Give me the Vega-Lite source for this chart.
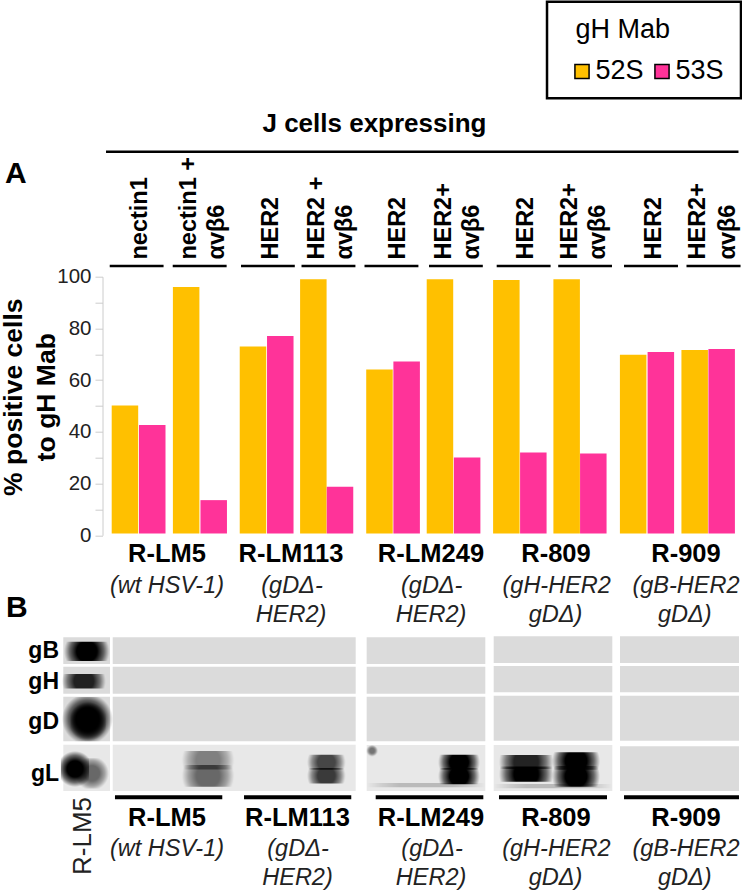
{
"$schema":"https://vega.github.io/schema/vega-lite/v6.json",
"autosize":{"type":"none"},
"padding":{"left":102.5,"top":276.7,"right":0,"bottom":355.7},
"width":639.5,"height":258.6,
"background":"white",
"config":{"font":"Liberation Sans","view":{"stroke":null}},
"datasets":{
"bars":[
{"virus":"R-LM5","cells":"nectin1","mab":"52S","v":50.2,"lane":0.351},
{"virus":"R-LM5","cells":"nectin1","mab":"53S","v":42.7,"lane":0.778},
{"virus":"R-LM5","cells":"nectin1 + αvβ6","mab":"52S","v":96,"lane":1.308},
{"virus":"R-LM5","cells":"nectin1 + αvβ6","mab":"53S","v":13.6,"lane":1.739},
{"virus":"R-LM113","cells":"HER2","mab":"52S","v":73,"lane":2.353},
{"virus":"R-LM113","cells":"HER2","mab":"53S","v":77.1,"lane":2.78},
{"virus":"R-LM113","cells":"HER2 + αvβ6","mab":"52S","v":99,"lane":3.297},
{"virus":"R-LM113","cells":"HER2 + αvβ6","mab":"53S","v":18.8,"lane":3.714},
{"virus":"R-LM249","cells":"HER2","mab":"52S","v":64.1,"lane":4.331},
{"virus":"R-LM249","cells":"HER2","mab":"53S","v":67.2,"lane":4.756},
{"virus":"R-LM249","cells":"HER2+ αvβ6","mab":"52S","v":99,"lane":5.277},
{"virus":"R-LM249","cells":"HER2+ αvβ6","mab":"53S","v":30.1,"lane":5.702},
{"virus":"R-809","cells":"HER2","mab":"52S","v":98.7,"lane":6.315},
{"virus":"R-809","cells":"HER2","mab":"53S","v":32,"lane":6.737},
{"virus":"R-809","cells":"HER2+ αvβ6","mab":"52S","v":99,"lane":7.258},
{"virus":"R-809","cells":"HER2+ αvβ6","mab":"53S","v":31.6,"lane":7.675},
{"virus":"R-909","cells":"HER2","mab":"52S","v":69.8,"lane":8.298},
{"virus":"R-909","cells":"HER2","mab":"53S","v":70.9,"lane":8.731},
{"virus":"R-909","cells":"HER2+ αvβ6","mab":"52S","v":71.7,"lane":9.26},
{"virus":"R-909","cells":"HER2+ αvβ6","mab":"53S","v":72,"lane":9.682}
],
"blots":[
{"panel":"ref","protein":"gB","lane":-0.613,"lane2":0.117,"v":-39.44,"v2":-49.77},
{"panel":"ref","protein":"gH","lane":-0.613,"lane2":0.117,"v":-50.81,"v2":-61.25},
{"panel":"ref","protein":"gD","lane":-0.613,"lane2":0.117,"v":-62.41,"v2":-79.66},
{"panel":"ref","protein":"gL","lane":-0.613,"lane2":0.117,"v":-80.97,"v2":-98.88},
{"panel":"R-LM5/113","protein":"gB","lane":0.16,"lane2":3.959,"v":-39.44,"v2":-49.77},
{"panel":"R-LM5/113","protein":"gH","lane":0.16,"lane2":3.959,"v":-50.81,"v2":-61.25},
{"panel":"R-LM5/113","protein":"gD","lane":0.16,"lane2":3.959,"v":-62.41,"v2":-79.66},
{"panel":"R-LM5/113","protein":"gL","lane":0.16,"lane2":3.959,"v":-80.97,"v2":-98.88},
{"panel":"R-LM249","protein":"gB","lane":4.131,"lane2":5.986,"v":-39.44,"v2":-49.77},
{"panel":"R-LM249","protein":"gH","lane":4.131,"lane2":5.986,"v":-50.81,"v2":-61.25},
{"panel":"R-LM249","protein":"gD","lane":4.131,"lane2":5.986,"v":-62.41,"v2":-79.66},
{"panel":"R-LM249","protein":"gL","lane":4.131,"lane2":5.986,"v":-81.09,"v2":-98.88},
{"panel":"R-809","protein":"gB","lane":6.117,"lane2":7.972,"v":-39.06,"v2":-49.38},
{"panel":"R-809","protein":"gH","lane":6.117,"lane2":7.972,"v":-50.54,"v2":-60.71},
{"panel":"R-809","protein":"gD","lane":6.117,"lane2":7.972,"v":-62.03,"v2":-79.43},
{"panel":"R-809","protein":"gL","lane":6.117,"lane2":7.972,"v":-81.09,"v2":-98.88},
{"panel":"R-909","protein":"gB","lane":8.092,"lane2":9.953,"v":-39.06,"v2":-49.38},
{"panel":"R-909","protein":"gH","lane":8.092,"lane2":9.953,"v":-50.54,"v2":-60.71},
{"panel":"R-909","protein":"gD","lane":8.092,"lane2":9.953,"v":-62.03,"v2":-79.43},
{"panel":"R-909","protein":"gL","lane":8.092,"lane2":9.953,"v":-81.6,"v2":-98.88}
],
"bands":[
{"panel":"ref","protein":"gB","lane":-0.6,"lane2":0.11,"v":-41.2,"v2":-48.6,"density":1},
{"panel":"ref","protein":"gH","lane":-0.633,"lane2":0.05,"v":-53.6,"v2":-59.2,"density":0.85},
{"panel":"ref","protein":"gD","lane":-0.633,"lane2":0.16,"v":-62.5,"v2":-79.6,"density":1},
{"panel":"ref","protein":"gD","lane":-0.5,"lane2":0.05,"v":-64.5,"v2":-79.6,"density":1},
{"panel":"ref","protein":"gL","lane":-0.43,"lane2":0.1,"v":-86.2,"v2":-97.9,"density":0.55},
{"panel":"ref","protein":"gL","lane":-0.65,"lane2":-0.21,"v":-83.4,"v2":-97.3,"density":1},
{"panel":"R-LM5","protein":"gL","lane":1.24,"lane2":2.06,"v":-83.4,"v2":-90.6,"density":0.45},
{"panel":"R-LM5","protein":"gL","lane":1.24,"lane2":2.06,"v":-88.8,"v2":-97.2,"density":0.55},
{"panel":"R-LM113","protein":"gL","lane":3.2,"lane2":3.8,"v":-84.9,"v2":-90.7,"density":0.7},
{"panel":"R-LM113","protein":"gL","lane":3.2,"lane2":3.8,"v":-90,"v2":-96,"density":0.75},
{"panel":"R-LM249","protein":"gL","lane":5.25,"lane2":5.9,"v":-84.9,"v2":-90.7,"density":1},
{"panel":"R-LM249","protein":"gL","lane":5.25,"lane2":5.9,"v":-90,"v2":-96.3,"density":1},
{"panel":"R-LM249","protein":"gL","lane":4.131,"lane2":4.3,"v":-81.1,"v2":-85.5,"density":0.5},
{"panel":"R-LM249","protein":"gL","lane":4.131,"lane2":5.986,"v":-95.8,"v2":-97.4,"density":0.2},
{"panel":"R-809","protein":"gL","lane":6.2,"lane2":7.05,"v":-85,"v2":-90.4,"density":0.85},
{"panel":"R-809","protein":"gL","lane":6.2,"lane2":7.05,"v":-89.4,"v2":-95.3,"density":1},
{"panel":"R-809","protein":"gL","lane":7.03,"lane2":7.78,"v":-83.9,"v2":-90.7,"density":1},
{"panel":"R-809","protein":"gL","lane":7.03,"lane2":7.78,"v":-89.2,"v2":-97.2,"density":1},
{"panel":"R-809","protein":"gL","lane":6.117,"lane2":7.972,"v":-96.2,"v2":-97.8,"density":0.2}
],
"thinRules":[
{"lane":0.055,"lane2":9.945,"v":148.3},
{"lane":0.113,"lane2":0.955,"v":104.1},
{"lane":1.098,"lane2":1.941,"v":104.1},
{"lane":2.166,"lane2":3.007,"v":104.1},
{"lane":3.112,"lane2":3.955,"v":104.1},
{"lane":4.097,"lane2":4.94,"v":104.1},
{"lane":5.106,"lane2":5.947,"v":104.1},
{"lane":6.164,"lane2":7.007,"v":104.1},
{"lane":7.126,"lane2":7.967,"v":104.1},
{"lane":8.155,"lane2":8.999,"v":104.1},
{"lane":9.132,"lane2":9.977,"v":104.1}
],
"thickRules":[
{"lane":0.195,"lane2":1.873,"v":-101.3},
{"lane":2.213,"lane2":3.89,"v":-101.3},
{"lane":4.272,"lane2":5.955,"v":-101.3},
{"lane":6.2,"lane2":7.889,"v":-101.3},
{"lane":8.155,"lane2":9.953,"v":-101.3}
],
"rotated":[
{"t":"nectin1","lane":0.696,"v":106.65},
{"t":"nectin1 +","lane":1.456,"v":106.65},
{"t":"αvβ6","lane":1.9,"v":106.65},
{"t":"HER2","lane":2.744,"v":106.65},
{"t":"HER2 +","lane":3.471,"v":106.65},
{"t":"αvβ6","lane":3.902,"v":106.65},
{"t":"HER2","lane":4.724,"v":106.65},
{"t":"HER2+","lane":5.45,"v":106.65},
{"t":"αvβ6","lane":5.887,"v":106.65},
{"t":"HER2","lane":6.738,"v":106.65},
{"t":"HER2+","lane":7.42,"v":106.65},
{"t":"αvβ6","lane":7.858,"v":106.65},
{"t":"HER2","lane":8.73,"v":106.65},
{"t":"HER2+","lane":9.421,"v":106.65},
{"t":"αvβ6","lane":9.89,"v":106.65}
],
"virusNames":[
{"t":"R-LM5","lane":1.009,"v":-10.21},
{"t":"R-LM113","lane":2.948,"v":-10.21},
{"t":"R-LM249","lane":5.137,"v":-10.21},
{"t":"R-809","lane":7.091,"v":-10.21},
{"t":"R-909","lane":9.124,"v":-10.21},
{"t":"R-LM5","lane":1.009,"v":-112.41},
{"t":"R-LM113","lane":3.049,"v":-112.41},
{"t":"R-LM249","lane":5.137,"v":-112.41},
{"t":"R-809","lane":7.091,"v":-112.41},
{"t":"R-909","lane":9.124,"v":-112.41}
],
"virusNotes":[
{"t":"(wt HSV-1)","lane":1.009,"v":-22.2},
{"t":"(gDΔ-","lane":2.963,"v":-22.2},
{"t":"HER2)","lane":2.948,"v":-33.41},
{"t":"(gDΔ-","lane":5.148,"v":-22.2},
{"t":"HER2)","lane":5.137,"v":-33.41},
{"t":"(gH-HER2","lane":7.102,"v":-22.2},
{"t":"gDΔ)","lane":7.084,"v":-33.41},
{"t":"(gB-HER2","lane":9.124,"v":-22.2},
{"t":"gDΔ)","lane":9.104,"v":-33.41},
{"t":"(wt HSV-1)","lane":1.009,"v":-124.01},
{"t":"(gDΔ-","lane":3.057,"v":-124.01},
{"t":"HER2)","lane":3.049,"v":-135.23},
{"t":"(gDΔ-","lane":5.153,"v":-124.01},
{"t":"HER2)","lane":5.137,"v":-135.23},
{"t":"(gH-HER2","lane":7.098,"v":-124.01},
{"t":"gDΔ)","lane":7.084,"v":-135.23},
{"t":"(gB-HER2","lane":9.124,"v":-124.01},
{"t":"gDΔ)","lane":9.104,"v":-135.23}
],
"proteins":[
{"t":"gB","lane":-0.68,"v":-47.45},
{"t":"gH","lane":-0.68,"v":-59.44},
{"t":"gD","lane":-0.68,"v":-74.9},
{"t":"gL","lane":-0.68,"v":-94.9}
]
},
"encoding":{
"x":{"field":"lane","type":"quantitative","scale":{"domain":[0,10],"nice":false,"zero":false,"padding":0},"axis":null},
"y":{"field":"v","type":"quantitative","scale":{"domain":[0,100],"nice":false,"zero":false},
 "axis":{"values":[0,10,20,30,40,50,60,70,80,90,100],"labelExpr":"datum.value%20==0?datum.label:''","labelFontSize":20.5,"labelColor":"#222222","labelPadding":4,"tickSize":7.5,"tickColor":"#cccccc","domainColor":"#cccccc","grid":false,
   "title":["% positive cells","to gH Mab"],"titleFontSize":26.5,"titleFontWeight":"bold","titleColor":"#000000","titleAngle":270,"titleAlign":"center","titleBaseline":"alphabetic","titleLineHeight":33,"titleX":-81,"titleY":120}}
},
"layer":[
{"data":{"name":"blots"},"mark":{"type":"rect"},
 "encoding":{"x2":{"field":"lane2"},"y2":{"field":"v2"},
 "fill":{"condition":{"test":"datum.protein=='gL' && datum.panel!='R-909'","value":"#e8e8e8"},"value":"#dbdbdb"}}},
{"data":{"name":"bands"},"mark":{"type":"rect","fill":{"gradient":"radial","stops":[{"offset":0,"color":"#000000"},{"offset":0.45,"color":"#000000"},{"offset":0.75,"color":"rgba(0,0,0,0.55)"},{"offset":1,"color":"rgba(0,0,0,0)"}]}},
 "encoding":{"x2":{"field":"lane2"},"y2":{"field":"v2"},"opacity":{"field":"density","type":"quantitative","scale":null}}},
{"data":{"name":"bars"},"mark":{"type":"bar","orient":"vertical","width":26.5},
 "encoding":{
  "y2":{"datum":0.7},
  "color":{"field":"mab","type":"nominal","scale":{"domain":["52S","53S"],"range":["#FFC000","#FF3399"]},
   "legend":{"title":"gH Mab","orient":"none","legendX":466,"legendY":-260,"direction":"horizontal","columns":2,"padding":0,"titleFontSize":27,"titleFontWeight":"normal","titleColor":"#000000","titlePadding":14,"labelFontSize":27,"labelColor":"#000000","labelOffset":0,"columnPadding":4,"symbolType":"square","symbolSize":200,"symbolStrokeColor":"#000000","symbolStrokeWidth":1.5,"symbolOpacity":1,"encode":{"title":{"update":{"dx":{"value":7}}}}}}
 }},
{"data":{"values":[{"item":"legend frame","lane":6.951,"lane2":9.984,"v":206.34,"v2":168.99}]},"mark":{"type":"rect","fill":null,"stroke":"#000000","strokeWidth":2.5},
 "encoding":{"x2":{"field":"lane2"},"y2":{"field":"v2"}}},
{"data":{"name":"thinRules"},"mark":{"type":"rule","color":"#000000","strokeWidth":2.5},"encoding":{"x2":{"field":"lane2"}}},
{"data":{"name":"thickRules"},"mark":{"type":"rule","color":"#000000","strokeWidth":4},"encoding":{"x2":{"field":"lane2"}}},
{"data":{"name":"rotated"},"mark":{"type":"text","angle":270,"align":"left","baseline":"alphabetic","fontSize":23.5,"fontWeight":"bold","color":"#000000"},"encoding":{"text":{"field":"t"}}},
{"data":{"name":"virusNames"},"mark":{"type":"text","align":"center","baseline":"alphabetic","fontSize":25.5,"fontWeight":"bold","color":"#000000"},"encoding":{"text":{"field":"t"}}},
{"data":{"name":"virusNotes"},"mark":{"type":"text","align":"center","baseline":"alphabetic","fontSize":23.5,"fontStyle":"italic","color":"#222222"},"encoding":{"text":{"field":"t"}}},
{"data":{"name":"proteins"},"mark":{"type":"text","align":"right","baseline":"alphabetic","fontSize":23,"fontWeight":"bold","color":"#000000"},"encoding":{"text":{"field":"t"}}},
{"data":{"values":[{"t":"J cells expressing","lane":4.253,"v":156.07}]},"mark":{"type":"text","align":"center","baseline":"alphabetic","fontSize":26,"fontWeight":"bold","color":"#000000"},"encoding":{"text":{"field":"t"}}},
{"data":{"values":[{"t":"A","lane":-1.525,"v":136.2},{"t":"B","lane":-1.509,"v":-31.48}]},"mark":{"type":"text","align":"left","baseline":"alphabetic","fontSize":30,"fontWeight":"bold","color":"#000000"},"encoding":{"text":{"field":"t"}}},
{"data":{"values":[{"t":"R-LM5","lane":-0.185,"v":-131.36}]},"mark":{"type":"text","angle":270,"align":"left","baseline":"alphabetic","fontSize":26,"color":"#222222"},"encoding":{"text":{"field":"t"}}}
]
}
